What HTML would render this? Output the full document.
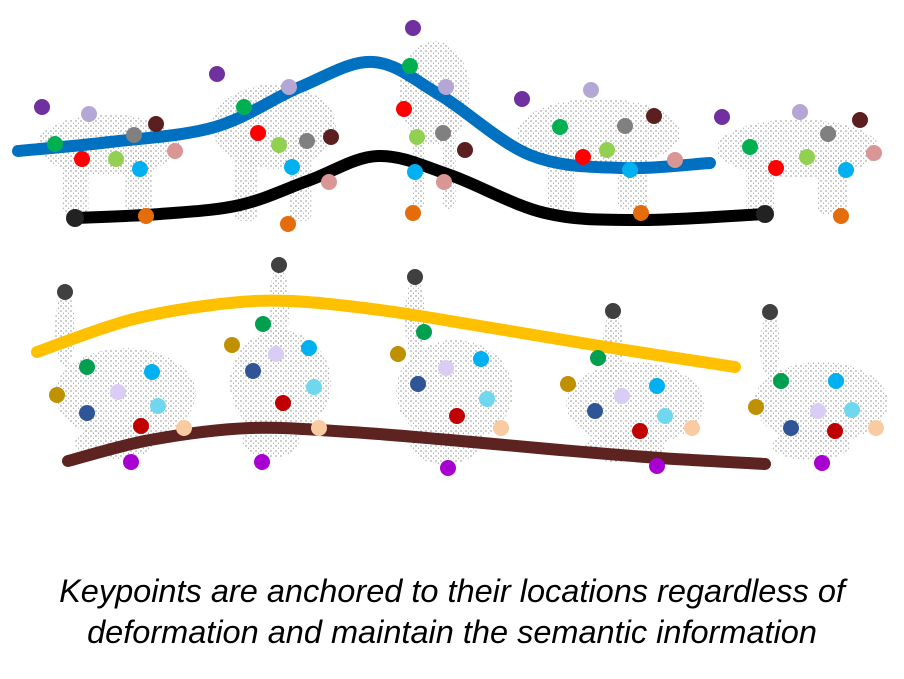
<!DOCTYPE html>
<html><head><meta charset="utf-8"><style>
html,body{margin:0;padding:0;background:#fff;width:904px;height:679px;overflow:hidden}
svg{position:absolute;left:0;top:0}
.cap{position:absolute;left:0;width:904px;text-align:center;font-family:"Liberation Sans",sans-serif;font-style:italic;font-size:32.5px;color:#000;line-height:41px;top:571px;white-space:nowrap}
</style></head><body>
<svg id="fig" width="904" height="679">
<defs><pattern id="stip" width="5" height="5" patternUnits="userSpaceOnUse">
<circle cx="1" cy="1" r="0.6" fill="#555"/><circle cx="3.5" cy="3.2" r="0.55" fill="#888"/></pattern></defs>
<g id="clouds"></g><g id="curves"></g><g id="kps"></g>
</svg>
<div class="cap">Keypoints are anchored to their locations regardless of<br>deformation and maintain the semantic information</div>
<script>
const bearColors=['#7030a0','#b4a7d6','#5c1f1f','#808080','#d99694','#00b050','#ff0000','#92d050','#00b0f0','#e46c0a'];
const bunnyColors=['#404040','#00a050','#00b0f0','#bf9000','#d9ccf5','#6fd8ee','#2f5597','#c00000','#f8cba0','#a800d0'];
const bearKps=[
[[42,107],[89,114],[156,124],[134,135],[175,151],[55,144],[82,159],[116,159],[140,169],[146,216]],
[[217,74],[289,87],[331,137],[307,141],[329,182],[244,107],[258,133],[279,145],[292,167],[288,224]],
[[413,28],[446,87],[465,150],[443,133],[444,182],[410,66],[404,109],[417,137],[415,172],[413,213]],
[[522,99],[591,90],[654,116],[625,126],[675,160],[560,127],[583,157],[607,150],[630,170],[641,213]],
[[722,117],[800,112],[860,120],[828,134],[874,153],[750,147],[776,168],[807,157],[846,170],[841,216]]];
const bunnyKps=[
[[65,292],[87,367],[152,372],[57,395],[118,392],[158,406],[87,413],[141,426],[184,428],[131,462]],
[[279,265],[263,324],[309,348],[232,345],[276,354],[314,387],[253,371],[283,403],[319,428],[262,462]],
[[415,277],[424,332],[481,359],[398,354],[446,368],[487,399],[418,384],[457,416],[501,428],[448,468]],
[[613,311],[598,358],[657,386],[568,384],[622,396],[665,416],[595,411],[640,431],[692,428],[657,466]],
[[770,312],[781,381],[836,381],[756,407],[818,411],[852,410],[791,428],[835,431],[876,428],[822,463]]];
const blueCurve=[[18,151],[110,142],[215,127],[300,87],[373,62],[440,95],[530,155],[620,168],[710,163]];
const blackCurve=[[75,218],[160,214],[240,205],[310,180],[378,156],[450,175],[545,213],[640,220],[765,214]];
const yellowCurve=[[37,352],[130,320],[220,304],[290,301],[380,310],[480,326],[600,346],[735,367]];
const brownCurve=[[68,461],[150,440],[250,428],[350,432],[450,440],[560,450],[660,458],[765,464]];
const NS='http://www.w3.org/2000/svg';
function mk(t,a,p){const e=document.createElementNS(NS,t);for(const k in a)e.setAttribute(k,a[k]);p.appendChild(e);return e;}
const clouds=document.getElementById('clouds');
function cloud(pts,kind,i){
  const xs=pts.map(p=>p[0]),ys=pts.map(p=>p[1]);
  const x0=Math.min(...xs)-5,x1=Math.max(...xs)+5,y0=Math.min(...ys),y1=Math.max(...ys);
  const g=mk('g',{fill:'url(#stip)'},clouds);
  
  
  const cx=(x0+x1)/2,w=x1-x0,h=y1-y0;
  if(kind==='bear'){
    mk('ellipse',{cx:cx,cy:y0+h*0.35,rx:w/2,ry:h*0.28},g);
    mk('rect',{x:x0+w*0.18,y:y0+h*0.4,width:w*0.18,height:h*0.58,rx:6},g);
    mk('rect',{x:x0+w*0.62,y:y0+h*0.4,width:w*0.18,height:h*0.58,rx:6},g);
  }else{
    mk('ellipse',{cx:cx+5,cy:y0+h*0.6,rx:w/2+2,ry:h*0.27},g);
    mk('ellipse',{cx:pts[0][0],cy:y0+h*0.22,rx:10,ry:h*0.22},g);
    mk('ellipse',{cx:cx-5,cy:y0+h*0.88,rx:w*0.3,ry:h*0.1},g);
  }
}
bearKps.forEach((p,i)=>cloud(p,'bear',i));
bunnyKps.forEach((p,i)=>cloud(p,'bunny',i));
const curves=document.getElementById('curves');
function smooth(pts){let d='M'+pts[0][0]+','+pts[0][1];
  for(let i=0;i<pts.length-1;i++){const p0=pts[Math.max(0,i-1)],p1=pts[i],p2=pts[i+1],p3=pts[Math.min(pts.length-1,i+2)];
    d+=' C'+(p1[0]+(p2[0]-p0[0])/6)+','+(p1[1]+(p2[1]-p0[1])/6)+' '+(p2[0]-(p3[0]-p1[0])/6)+','+(p2[1]-(p3[1]-p1[1])/6)+' '+p2[0]+','+p2[1];}
  return d;}
function curve(pts,col,name){
  const e=mk('path',{d:smooth(pts),fill:'none',stroke:col,'stroke-width':12,'stroke-linecap':'round'},curves);
  
  
}
const kps=document.getElementById('kps');
function dots(sets,cols,kind){sets.forEach((s,i)=>s.forEach((p,j)=>{
  const c=mk('circle',{cx:p[0],cy:p[1],r:8,fill:cols[j]},kps);
  
  
}));}
dots(bearKps,bearColors,'bear');
dots(bunnyKps,bunnyColors,'bunny');
curve(blueCurve,'#0070c0','blue-trajectory');
curve(blackCurve,'#000','black-trajectory');
curve(yellowCurve,'#ffc000','yellow-trajectory');
curve(brownCurve,'#5c2320','brown-trajectory');
[blackCurve[0],blackCurve[blackCurve.length-1]].forEach(p=>{
  const c=mk('circle',{cx:p[0],cy:p[1],r:9,fill:'#222'},curves);
  
  
});
</script>
</body></html>
